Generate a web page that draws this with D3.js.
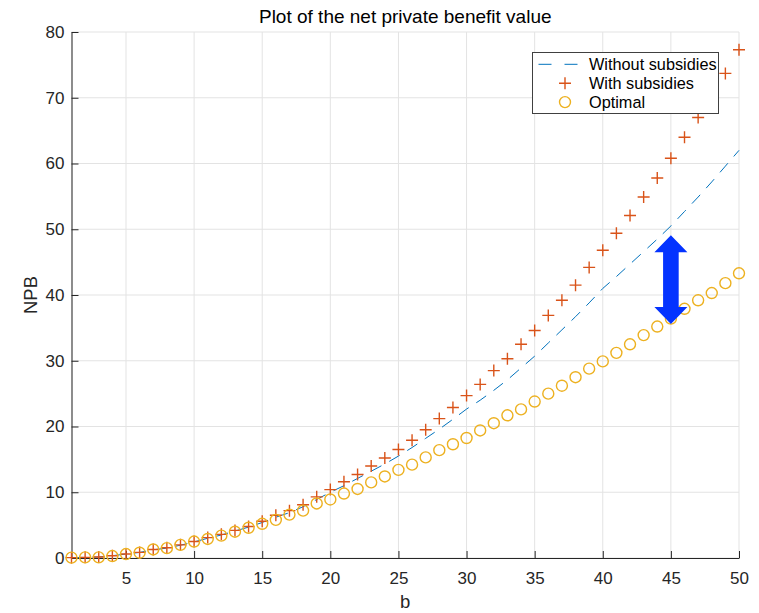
<!DOCTYPE html>
<html>
<head>
<meta charset="utf-8">
<script src="https://cdn.jsdelivr.net/npm/d3@7"></script>
<style>
  html, body { margin: 0; padding: 0; background: #fff; }
  svg { display: block; font-family: "Liberation Sans", Arial, Helvetica, sans-serif; }
</style>
</head>
<body>
<svg id="chart" width="759" height="613"></svg>
<script>
// b values (1..50)
const bValues = d3.range(1, 51);

// Net private benefit without subsidies (dashed line)
const withoutSubsidies = [
  0.05, 0.1, 0.15, 0.35, 0.6, 0.85, 1.25, 1.5, 1.95, 2.45,
  3.0, 3.5, 4.1, 4.7, 5.4, 6.2, 6.9, 7.8, 8.9, 10.0,
  11.0, 12.1, 13.2, 14.3, 15.5, 16.8, 18.2, 19.6, 21.1, 22.65,
  24.0, 25.5, 27.1, 28.9, 30.7, 32.7, 34.7, 36.7, 38.8, 41.0,
  42.8, 44.7, 46.6, 48.5, 50.5, 52.7, 54.9, 57.2, 59.6, 62.0
];

// Net private benefit with subsidies (+ markers)
const withSubsidies = [
  0.05, 0.1, 0.15, 0.35, 0.6, 0.85, 1.3, 1.55, 2.0, 2.5,
  3.1, 3.6, 4.2, 4.8, 5.6, 6.5, 7.2, 8.1, 9.3, 10.4,
  11.6, 12.7, 14.0, 15.2, 16.5, 17.9, 19.5, 21.2, 22.9, 24.7,
  26.4, 28.5, 30.3, 32.5, 34.6, 36.9, 39.2, 41.5, 44.2, 46.8,
  49.4, 52.1, 54.9, 57.8, 60.8, 64.0, 67.0, 70.3, 73.7, 77.3
];

// Optimal net private benefit (o markers)
const optimal = [
  0.05, 0.1, 0.1, 0.3, 0.6, 0.8, 1.3, 1.5, 2.0, 2.5,
  2.9, 3.4, 4.0, 4.6, 5.2, 5.8, 6.6, 7.2, 8.3, 8.9,
  9.8, 10.5, 11.5, 12.4, 13.4, 14.2, 15.3, 16.4, 17.3, 18.25,
  19.4, 20.5, 21.7, 22.6, 23.8, 25.0, 26.2, 27.5, 28.8, 29.9,
  31.2, 32.5, 33.9, 35.2, 36.4, 37.9, 39.2, 40.3, 41.8, 43.3
];

const xTicks = [5, 10, 15, 20, 25, 30, 35, 40, 45, 50];
const yTicks = [0, 10, 20, 30, 40, 50, 60, 70, 80];
const legendLabels = ["Without subsidies", "With subsidies", "Optimal"];

// Double-headed arrow marking the gap at b = 45
const gapArrow = { b: 45, top: 49.1, bottom: 35.6 };

const colors = { line: "#0072BD", plus: "#D95319", circle: "#EDB120", arrow: "#0433FF", axis: "#262626", grid: "#e3e3e3" };

const svg = d3.select("#chart");
const plotLeft = 71.5, plotRight = 739, plotTop = 32, plotBottom = 558;

const x = d3.scaleLinear().domain([1, 50]).range([plotLeft, plotRight]);
const y = d3.scaleLinear().domain([0, 80]).range([plotBottom, plotTop]);

// Grid
const grid = svg.append("g");
grid.selectAll("line.gx").data(xTicks).join("line")
  .attr("x1", d => x(d)).attr("x2", d => x(d))
  .attr("y1", plotTop).attr("y2", plotBottom)
  .attr("stroke", colors.grid).attr("stroke-width", 1);
grid.selectAll("line.gy").data(yTicks).join("line")
  .attr("x1", plotLeft).attr("x2", plotRight)
  .attr("y1", d => y(d)).attr("y2", d => y(d))
  .attr("stroke", colors.grid).attr("stroke-width", 1);

// Axes (inward ticks, box off)
const xAxis = d3.axisBottom(x).tickValues(xTicks).tickSizeInner(-7).tickSizeOuter(0).tickPadding(13.5);
const yAxis = d3.axisLeft(y).tickValues(yTicks).tickSizeInner(-7).tickSizeOuter(0).tickPadding(7);

const gx = svg.append("g").attr("transform", `translate(0,${plotBottom})`).call(xAxis);
const gy = svg.append("g").attr("transform", `translate(${plotLeft},0)`).call(yAxis);
[gx, gy].forEach(g => {
  g.selectAll(".tick line").attr("stroke", colors.axis);
  g.selectAll(".tick text").attr("fill", colors.axis).attr("font-size", 17).attr("font-family", "Liberation Sans, Arial, sans-serif");
});
gx.select(".domain").attr("stroke", colors.axis);
gy.select(".domain").attr("stroke", "#707070").attr("stroke-width", 1.6);

// Without subsidies: dashed line
const line = d3.line().x((d, i) => x(bValues[i])).y(d => y(d));
svg.append("path").datum(withoutSubsidies)
  .attr("d", line)
  .attr("fill", "none")
  .attr("stroke", colors.line)
  .attr("stroke-width", 1)
  .attr("stroke-dasharray", "12,9");

// With subsidies: plus markers
const plusSize = 6;
const plusPath = `M${-plusSize},0H${plusSize}M0,${-plusSize}V${plusSize}`;
svg.append("g").selectAll("path").data(withSubsidies).join("path")
  .attr("transform", (d, i) => `translate(${x(bValues[i])},${y(d)})`)
  .attr("d", plusPath)
  .attr("fill", "none")
  .attr("stroke", colors.plus)
  .attr("stroke-width", 1.4);

// Optimal: circle markers
svg.append("g").selectAll("circle").data(optimal).join("circle")
  .attr("cx", (d, i) => x(bValues[i]))
  .attr("cy", d => y(d))
  .attr("r", 5.5)
  .attr("fill", "none")
  .attr("stroke", colors.circle)
  .attr("stroke-width", 1.4);

// Gap arrow
{
  const ax = x(gapArrow.b), y1 = y(gapArrow.top), y2 = y(gapArrow.bottom);
  const hw = 16.5, hl = 17, sw = 7.8;
  const p = d3.path();
  p.moveTo(ax, y1);
  p.lineTo(ax + hw, y1 + hl);
  p.lineTo(ax + sw, y1 + hl);
  p.lineTo(ax + sw, y2 - hl);
  p.lineTo(ax + hw, y2 - hl);
  p.lineTo(ax, y2);
  p.lineTo(ax - hw, y2 - hl);
  p.lineTo(ax - sw, y2 - hl);
  p.lineTo(ax - sw, y1 + hl);
  p.lineTo(ax - hw, y1 + hl);
  p.closePath();
  svg.append("path").attr("d", p.toString()).attr("fill", colors.arrow);
}

// Legend
const lg = svg.append("g").attr("transform", "translate(532.5,52.5)");
lg.append("rect").attr("width", 186).attr("height", 61)
  .attr("fill", "#fff").attr("stroke", "#404040").attr("stroke-width", 1);
const rowY = [11.8, 30.8, 49.6];
lg.append("line").attr("x1", 6).attr("x2", 46).attr("y1", rowY[0]).attr("y2", rowY[0])
  .attr("stroke", colors.line).attr("stroke-width", 1).attr("stroke-dasharray", "13,13");
lg.append("path").attr("transform", `translate(32.5,${rowY[1]})`).attr("d", plusPath)
  .attr("fill", "none").attr("stroke", colors.plus).attr("stroke-width", 1.4);
lg.append("circle").attr("cx", 32.5).attr("cy", rowY[2]).attr("r", 5.5)
  .attr("fill", "none").attr("stroke", colors.circle).attr("stroke-width", 1.4);
lg.selectAll("text").data(legendLabels).join("text")
  .attr("x", 56.5).attr("y", (d, i) => rowY[i])
  .attr("dy", "0.35em")
  .attr("font-size", 16.3)
  .attr("fill", "#000")
  .text(d => d);

// Title and axis labels
svg.append("text").attr("x", (plotLeft + plotRight) / 2).attr("y", 23)
  .attr("text-anchor", "middle").attr("font-size", 19).attr("fill", "#000")
  .text("Plot of the net private benefit value");
svg.append("text").attr("x", (plotLeft + plotRight) / 2).attr("y", 608)
  .attr("text-anchor", "middle").attr("font-size", 18.5).attr("fill", "#262626")
  .text("b");
svg.append("text").attr("transform", `translate(36.5,${(plotTop + plotBottom) / 2}) rotate(-90)`)
  .attr("text-anchor", "middle").attr("font-size", 18.5).attr("fill", "#262626")
  .text("NPB");
</script>
</body>
</html>
